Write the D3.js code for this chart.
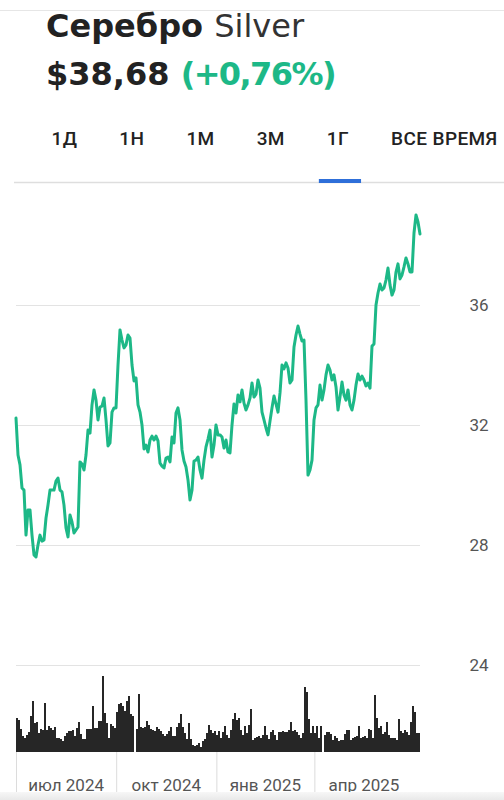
<!DOCTYPE html>
<html>
<head>
<meta charset="utf-8">
<script src="https://cdn.jsdelivr.net/npm/d3@7"></script>
<style>
  body { margin: 0; background: #fff; }
  svg { display: block; }
</style>
</head>
<body>
<svg id="chart"></svg>
<script>
const width = 504;
const height = 800;

const titleRu = 'Серебро';
const titleEn = 'Silver';
const priceText = '$38,68';
const changeText = '(+0,76%)';
const tabs = ['1Д', '1Н', '1М', '3М', '1Г', 'ВСЕ ВРЕМЯ'];
const activeTab = '1Г';

const yTicks = [24, 28, 32, 36];
const quarterStarts = ['2024-07-01', '2024-10-01', '2025-01-01', '2025-04-01'];
const quarterLabels = ['июл 2024', 'окт 2024', 'янв 2025', 'апр 2025'];
const firstDay = '2024-07-01';
const lastDay = '2025-07-07';

// цена, $ за унцию (равные шаги по времени)
const prices = [
  32.23, 31.00, 30.67, 29.90, 29.83, 28.33, 29.17, 29.17, 28.33, 27.67,
  27.60, 28.00, 28.33, 28.13, 28.17, 28.90, 29.33, 29.83, 29.83, 29.83,
  30.13, 30.23, 29.83, 29.77, 29.33, 28.57, 28.27, 29.00, 28.77, 28.40,
  28.50, 28.60, 30.77, 30.70, 30.50, 31.00, 31.83, 31.73, 32.67, 33.17,
  32.83, 32.17, 32.60, 32.63, 32.90, 32.17, 31.30, 31.40, 32.43, 32.57,
  32.57, 34.00, 35.17, 34.83, 34.57, 34.67, 35.00, 34.90, 34.00, 33.47,
  33.57, 32.67, 32.43, 32.00, 31.20, 31.33, 31.10, 31.50, 31.63, 31.50,
  31.63, 31.47, 30.73, 30.63, 30.57, 30.90, 30.93, 30.77, 31.60, 31.40,
  32.40, 32.57, 32.17, 31.17, 30.80, 30.60, 30.17, 29.50, 29.83, 30.80,
  30.83, 30.93, 30.50, 30.23, 30.83, 31.27, 31.53, 31.83, 30.93, 31.33,
  32.00, 31.67, 31.67, 31.60, 31.23, 31.50, 31.10, 31.07, 32.00, 32.70,
  32.40, 33.00, 32.77, 33.17, 32.73, 32.50, 32.67, 32.90, 33.40, 32.93,
  33.03, 33.50, 33.23, 32.43, 32.17, 31.90, 31.67, 32.13, 32.57, 32.97,
  32.70, 32.43, 33.07, 34.00, 33.87, 34.07, 33.90, 33.40, 33.50, 34.60,
  35.00, 35.30, 35.03, 34.80, 34.83, 32.83, 30.33, 30.50, 30.83, 32.17,
  32.57, 32.67, 33.33, 32.83, 33.17, 33.67, 34.00, 33.83, 33.50, 33.67,
  33.27, 32.50, 32.93, 33.43, 33.00, 32.83, 33.17, 32.67, 32.50, 32.83,
  33.33, 33.70, 33.50, 33.63, 33.50, 33.30, 33.40, 33.23, 34.63, 34.70,
  36.00, 36.40, 36.70, 36.50, 36.57, 36.83, 37.23, 36.67, 36.33, 36.50,
  37.10, 37.37, 36.87, 37.00, 37.27, 37.57, 37.37, 37.10, 37.10, 38.40,
  39.00, 38.77, 38.37
];

// объём торгов, усл. ед.
const volumes = [
  34, 32, 23, 16, 14, 17, 20, 36, 51, 29,
  30, 19, 23, 22, 49, 22, 26, 24, 22, 25,
  14, 14, 13, 11, 16, 19, 21, 21, 22, 16,
  24, 30, 18, 13, 13, 23, 23, 23, 46, 24,
  24, 31, 31, 76, 39, 29, 14, 28, 26, 24,
  40, 48, 49, 46, 41, 51, 56, 38, 36, 0,
  23, 58, 25, 24, 25, 31, 27, 23, 22, 21,
  25, 23, 21, 18, 16, 18, 21, 25, 16, 16,
  25, 29, 38, 25, 19, 13, 29, 13, 7, 6,
  7, 9, 5, 11, 13, 19, 27, 22, 19, 21,
  17, 21, 14, 20, 26, 17, 14, 22, 33, 39,
  32, 34, 22, 17, 26, 19, 27, 43, 12, 14,
  15, 16, 14, 17, 26, 17, 13, 20, 22, 17,
  12, 20, 20, 21, 20, 20, 22, 30, 21, 22,
  20, 17, 14, 19, 65, 60, 33, 19, 26, 19,
  26, 14, 26, 0, 17, 20, 20, 18, 12, 16,
  14, 11, 12, 12, 18, 22, 22, 12, 14, 15,
  16, 26, 14, 15, 16, 14, 23, 22, 14, 57,
  34, 24, 26, 18, 20, 30, 17, 14, 14, 14,
  12, 33, 21, 19, 22, 20, 17, 30, 46, 40,
  19, 19
];

const green = '#1db887';
const parse = d3.timeParse('%Y-%m-%d');

const svg = d3.select('#chart')
  .attr('width', width)
  .attr('height', height);

const x = d3.scaleTime().domain([parse(firstDay), parse(lastDay)]).range([16, 420]);
const y = d3.scaleLinear().domain([24, 36]).range([665, 305]);
const yVol = d3.scaleLinear().domain([0, 76]).range([752, 676]);

const priceDate = d3.scaleLinear().domain([0, prices.length - 1]).range(x.domain().map(Number));
const volDate = d3.scaleLinear().domain([0, volumes.length]).range(x.domain().map(Number));

// верхняя полоса
svg.append('line')
  .attr('x1', 0).attr('x2', width)
  .attr('y1', 10.5).attr('y2', 10.5)
  .attr('stroke', '#e6e6e6');

// заголовок
const title = svg.append('text')
  .attr('x', 46)
  .attr('y', 37)
  .style('font-family', 'DejaVu Sans')
  .style('font-size', '32px')
  .attr('fill', '#222');
title.append('tspan').style('font-weight', 'bold').text(titleRu + ' ');
title.append('tspan').attr('fill', '#333').text(titleEn);

const price = svg.append('text')
  .attr('x', 46)
  .attr('y', 85)
  .style('font-family', 'DejaVu Sans')
  .style('font-size', '32px')
  .style('font-weight', 'bold')
  .attr('fill', '#222');
price.append('tspan').text(priceText + ' ');
price.append('tspan').attr('fill', green).style('letter-spacing', '-1.6px').text(changeText);

// вкладки периода
svg.append('line')
  .attr('x1', 14).attr('x2', width)
  .attr('y1', 182.5).attr('y2', 182.5)
  .attr('stroke', '#dedede')
  .attr('stroke-width', 1.5);

let tabX = 51.5;
tabs.forEach(t => {
  const txt = svg.append('text')
    .attr('x', tabX)
    .attr('y', 145)
    .style('font-family', 'Roboto')
    .style('font-size', '19px')
    .style('font-weight', 500)
    .style('letter-spacing', '0.4px')
    .attr('fill', '#222')
    .text(t);
  const w = txt.node().getComputedTextLength();
  if (t === activeTab) {
    svg.append('rect')
      .attr('x', tabX - 8)
      .attr('y', 179)
      .attr('width', w + 20)
      .attr('height', 4)
      .attr('fill', '#2e6fd9');
  }
  tabX += w + 42;
});

// сетка
const grid = svg.append('g')
  .attr('transform', 'translate(420,0)')
  .call(d3.axisLeft(y).tickValues(yTicks).tickSize(404).tickFormat(''));
grid.select('.domain').remove();
grid.selectAll('line').attr('stroke', '#e3e3e3').attr('stroke-width', 1.2);

const yAxis = svg.append('g')
  .attr('transform', 'translate(479,0)')
  .call(d3.axisRight(y).tickValues(yTicks).tickSize(0).tickPadding(0));
yAxis.select('.domain').remove();
yAxis.selectAll('text')
  .attr('text-anchor', 'middle')
  .style('font-family', 'Roboto')
  .style('font-size', '17px')
  .attr('fill', '#555');

// объём
svg.append('g')
  .selectAll('rect')
  .data(volumes)
  .enter()
  .append('rect')
  .attr('x', (d, i) => x(volDate(i)))
  .attr('width', (d, i) => x(volDate(i + 1)) - x(volDate(i)))
  .attr('y', d => yVol(d))
  .attr('height', d => yVol(0) - yVol(d))
  .attr('fill', '#262626')
  .attr('shape-rendering', 'crispEdges');

// цена
svg.append('path')
  .datum(prices)
  .attr('fill', 'none')
  .attr('stroke', green)
  .attr('stroke-width', 3)
  .attr('stroke-linejoin', 'round')
  .attr('stroke-linecap', 'round')
  .attr('d', d3.line()
    .x((d, i) => x(priceDate(i)))
    .y(d => y(d)));

// ось времени
const xAxis = svg.append('g')
  .attr('transform', 'translate(0,752)')
  .call(d3.axisBottom(x).tickValues(quarterStarts.map(parse)).tickSize(45).tickFormat(''));
xAxis.select('.domain').remove();
xAxis.selectAll('line').attr('stroke', '#dcdcdc');

svg.append('g')
  .selectAll('text')
  .data(quarterStarts)
  .enter()
  .append('text')
  .attr('x', d => {
    const s = parse(d);
    return (x(s) + x(d3.timeMonth.offset(s, 3))) / 2;
  })
  .attr('y', 791)
  .attr('text-anchor', 'middle')
  .style('font-family', 'Roboto')
  .style('font-size', '17px')
  .attr('fill', '#555')
  .text((d, i) => quarterLabels[i]);

// нижняя тень
const grad = svg.append('defs').append('linearGradient')
  .attr('id', 'shade').attr('x1', 0).attr('x2', 0).attr('y1', 0).attr('y2', 1);
grad.append('stop').attr('offset', 0).attr('stop-color', '#f7f7f7');
grad.append('stop').attr('offset', 1).attr('stop-color', '#e9e9e9');
svg.append('rect')
  .attr('x', 0).attr('y', 792)
  .attr('width', width).attr('height', 8)
  .attr('fill', 'url(#shade)');
</script>
</body>
</html>
